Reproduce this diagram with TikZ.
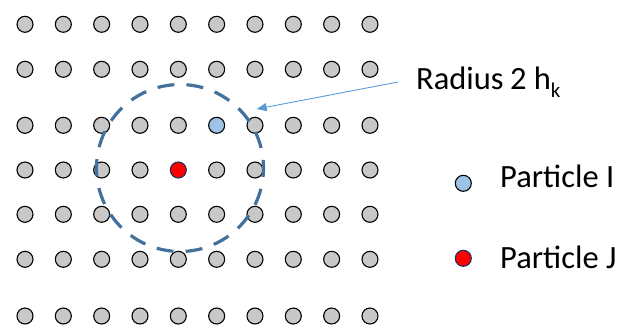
\documentclass[tikz,border=0pt]{standalone}
\usepackage{fontspec}
\setmainfont{Carlito}
\usetikzlibrary{arrows.meta}
\definecolor{partgray}{HTML}{C8C8C8}
\definecolor{parti}{HTML}{9DC3E6}
\definecolor{partj}{HTML}{FF0000}
\definecolor{jedge}{HTML}{1F2F5F}
\definecolor{rangecol}{HTML}{41719C}
\definecolor{pointcol}{HTML}{5B9BD5}

\tikzset{
  particle/.style={circle, draw=black, fill=partgray, line width=1.1bp,
    minimum size=16bp, inner sep=0pt},
  parti/.style={particle, fill=parti},
  partj/.style={particle, fill=partj, draw=jedge},
  lbl/.style={anchor=base west, inner sep=0pt,
    font=\fontsize{32.5bp}{39bp}\selectfont},
}

\begin{document}
\begin{tikzpicture}[x=1bp,y=-1bp]

% ---------- dimensions ----------
\def\xo{25}
\def\dx{38.33}
\def\rad{83.5}

\useasboundingbox (0,0) rectangle (617,324);

% ---------- particle grid ----------
\foreach \y [count=\r] in {24.3,69.3,125.3,170,214.3,259.3,316} {
  \foreach \c in {1,...,10} {
    \def\pstyle{particle}
    \ifnum\r=3 \ifnum\c=6 \def\pstyle{parti}\fi\fi
    \ifnum\r=4 \ifnum\c=5 \def\pstyle{partj}\fi\fi
    \node[\pstyle] (p-\r-\c) at ({\xo+(\c-1)*\dx},\y) {};
  }
}

% ---------- smoothing range ----------
\draw[rangecol, line width=3.2bp, dash pattern=on 17bp off 12.14bp,
  dash phase=8bp]
  (180,168) circle (\rad);
\coordinate (rangept) at (256.7,109);

% ---------- labels ----------
\node[lbl, inner xsep=18bp] (radlbl) at (398,89.3)
  {Radius\hspace{-1bp} 2 h\raisebox{-8bp}{\fontsize{21bp}{24bp}\selectfont k}};
\draw[pointcol, line width=0.9bp, -{Triangle[length=10bp,width=8bp]}]
  (radlbl.west) -- (rangept);

% ---------- legend ----------
\node[parti] (legi) at (463.3,183.3) {};
\node[lbl] (legilbl) at (500,187.3) {Particle I};
\node[partj] (legj) at (463.3,258.3) {};
\node[lbl] (legjlbl) at (500,268.3) {Particle J};

\end{tikzpicture}
\end{document}
